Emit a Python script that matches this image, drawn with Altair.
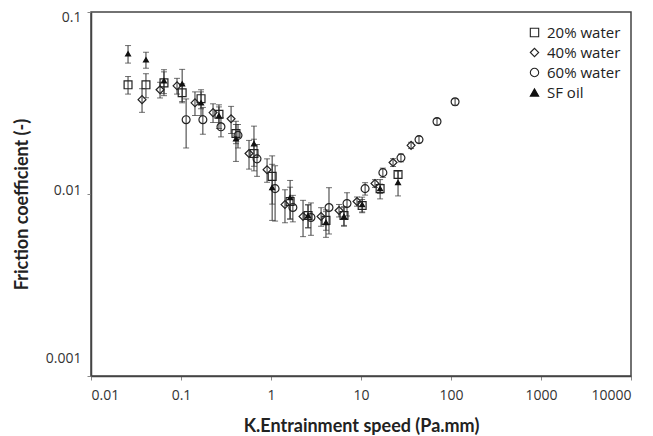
import altair as alt
import pandas as pd

series_names = ["20% water", "40% water", "60% water", "SF oil"]

x20 = [0.0258, 0.0408, 0.0647, 0.103, 0.167, 0.264, 0.408, 0.647, 1.03, 1.63, 2.58, 4.08, 6.47, 10.3, 16.3, 25.8]
y20 = [0.0398, 0.0398, 0.0408, 0.0360, 0.0334, 0.0274, 0.0215, 0.0167, 0.0125, 0.0091, 0.00762, 0.00716, 0.00762, 0.00865, 0.0107, 0.0128]
e20 = [0.0044, 0.0060, 0.0061, 0.0043, 0.0040, 0.0027, 0.0026, 0.0033, 0.0037, 0.0018, 0.0011, 0.00084, 0.0009, 0.00068, 0.00063, 0.00063]

x40 = [0.0369, 0.0585, 0.0903, 0.143, 0.227, 0.360, 0.570, 0.904, 1.43, 2.27, 3.60, 5.70, 9.03, 14.3, 22.7, 36.0]
y40 = [0.0330, 0.0374, 0.0393, 0.0317, 0.0280, 0.0259, 0.0167, 0.0136, 0.00875, 0.00753, 0.00753, 0.00812, 0.0091, 0.01143, 0.0149, 0.0185]
e40 = [0.0049, 0.0037, 0.0039, 0.0047, 0.0033, 0.0044, 0.0030, 0.0020, 0.0018, 0.0017, 0.00088, 0.00064, 0.00053, 0.00056, 0.00074, 0.00073]

x60 = [0.114, 0.175, 0.278, 0.430, 0.699, 1.11, 1.75, 2.78, 4.41, 6.99, 11.1, 17.5, 27.8, 44.1, 69.9, 111.0]
y60 = [0.0256, 0.0256, 0.0234, 0.0210, 0.0156, 0.0107, 0.00843, 0.00743, 0.00843, 0.00887, 0.0107, 0.0131, 0.0158, 0.0199, 0.0250, 0.0321]
e60 = [0.0077, 0.0043, 0.0028, 0.0031, 0.0031, 0.0036, 0.0014, 0.0015, 0.0024, 0.0013, 0.00084, 0.00077, 0.00078, 0.00079, 0.0010, 0.0013]

xsf = [0.0258, 0.0408, 0.0647, 0.103, 0.167, 0.264, 0.408, 0.647, 1.03, 1.63, 2.58, 4.08, 6.47, 10.3, 16.3, 25.8]
ysf = [0.0589, 0.0546, 0.0419, 0.0403, 0.0317, 0.0269, 0.0201, 0.0189, 0.01086, 0.00957, 0.00762, 0.00698, 0.00753, 0.00875, 0.0107, 0.01156]
esf = [0.0065, 0.0055, 0.0063, 0.0081, 0.0047, 0.0040, 0.0050, 0.0047, 0.0037, 0.0023, 0.0011, 0.0012, 0.00088, 0.00086, 0.0013, 0.0018]

x_ticks = [0.01, 0.1, 1, 10, 100, 1000, 10000]
y_ticks = [0.001, 0.01, 0.1]

rows = []
for name, xs, ys, es in [
    (series_names[0], x20, y20, e20),
    (series_names[1], x40, y40, e40),
    (series_names[2], x60, y60, e60),
    (series_names[3], xsf, ysf, esf),
]:
    for xv, yv, ev in zip(xs, ys, es):
        rows.append({"series": name, "x": xv, "y": yv, "lo": yv - ev, "hi": yv + ev})
df = pd.DataFrame(rows)

xscale = alt.Scale(type="log", domain=[0.01, 10000])
yscale = alt.Scale(type="log", domain=[0.001, 0.1])

base = alt.Chart(df)

bars = base.mark_rule(color="#333333", strokeWidth=1).encode(
    x=alt.X("x:Q", scale=xscale,
            axis=alt.Axis(values=x_ticks, format=".2~f", title="K.Entrainment speed (Pa.mm)",
                          grid=False, tickSize=4, labelPadding=8, titlePadding=15)),
    y=alt.Y("lo:Q", scale=yscale,
            axis=alt.Axis(values=y_ticks, format=".3~f", title="Friction coefficient (-)",
                          grid=False, tickSize=4, labelPadding=6, titlePadding=14, titleY=192,
                          labelOffset=alt.ExprRef("datum.value >= 0.09 ? 5 : (datum.value >= 0.009 ? -4 : -18)"))),
    y2="hi:Q",
)

caps = base.transform_fold(["lo", "hi"], as_=["end", "val"]).mark_tick(
    orient="horizontal", color="#333333", thickness=1, size=6
).encode(
    x=alt.X("x:Q", scale=xscale),
    y=alt.Y("val:Q", scale=yscale),
)

leg = alt.Legend(orient="none", legendX=436, legendY=13, padding=0,
                 labelFont="Open Sans", labelFontSize=15, labelColor="#222222",
                 symbolSize=70, symbolStrokeWidth=1.1,
                 rowPadding=4, labelOffset=5, title=None)

points = base.mark_point(filled=False, strokeWidth=1.2, opacity=1).encode(
    x=alt.X("x:Q", scale=xscale),
    y=alt.Y("y:Q", scale=yscale),
    shape=alt.Shape("series:N", legend=leg,
                    scale=alt.Scale(domain=series_names,
                                    range=["square", "diamond", "circle", "triangle-up"])),
    fill=alt.Fill("series:N", legend=leg,
                  scale=alt.Scale(domain=series_names,
                                  range=["transparent", "transparent", "transparent", "#111111"])),
    stroke=alt.Stroke("series:N", legend=leg,
                      scale=alt.Scale(domain=series_names,
                                      range=["#222222", "#222222", "#222222", "#111111"])),
    size=alt.condition(alt.datum.series == "SF oil", alt.value(24), alt.value(62)),
)

chart = alt.layer(bars, caps, points).properties(
    width=540, height=364,
    autosize=alt.AutoSizeParams(type="none"),
    padding={"left": 83, "top": 4, "right": 14, "bottom": 60},
).configure_view(
    stroke="#444444", strokeWidth=1.5
).configure_axis(
    domainColor="#444444", domainWidth=1.5, tickColor="#888888",
    labelFont="Open Sans", labelFontSize=14, labelColor="#333333",
    titleFont="Lato", titleFontSize=18, titleFontWeight="bold", titleColor="#222222",
)

chart.save("out.html", embed_options={"renderer": "svg", "actions": False})
